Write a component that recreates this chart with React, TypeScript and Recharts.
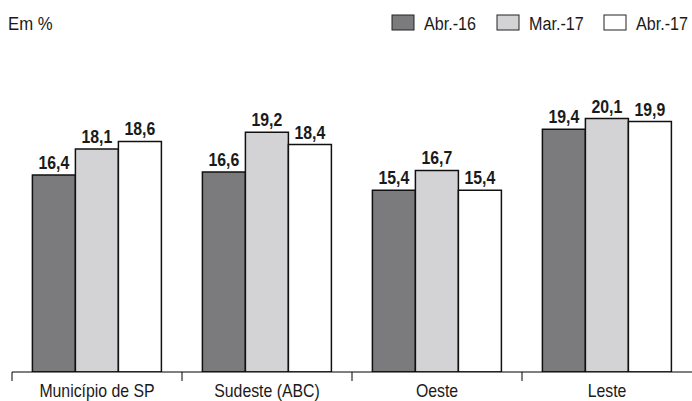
import React from "react"
import { BarChart, Bar, XAxis, YAxis, LabelList } from "recharts"

const categories = ["Município de SP", "Sudeste (ABC)", "Oeste", "Leste"]
const abr16 = [16.4, 16.6, 15.4, 19.4]
const mar17 = [18.1, 19.2, 16.7, 20.1]
const abr17 = [18.6, 18.4, 15.4, 19.9]

const series = [
  { key: "abr16", name: "Abr.-16", fill: "#7b7b7d" },
  { key: "mar17", name: "Mar.-17", fill: "#d3d3d5" },
  { key: "abr17", name: "Abr.-17", fill: "#ffffff" },
]

const data = categories.map((c, i) => ({
  regiao: c,
  abr16: abr16[i],
  mar17: mar17[i],
  abr17: abr17[i],
}))

const FONT = '"Liberation Sans", Arial, sans-serif'
const W = 692
const H = 401
const LEFT = 12
const band = (W - LEFT) / categories.length
const legendX = [392, 497, 604]

const fmt = (v: unknown) => String(v).replace(".", ",")

function NarrowText(props: any) {
  const { x, y, anchor = "start", size = 18, weight = 400, sx = 0.88, children } = props
  return (
    <text
      transform={`translate(${x},${y}) scale(${sx},1)`}
      textAnchor={anchor}
      fontSize={size}
      fontWeight={weight}
      fontFamily={FONT}
      fill="#1a1a1a"
    >
      {children}
    </text>
  )
}

function CatTick(props: any) {
  const { x, y, payload } = props
  return (
    <g>
      <line x1={x - band / 2} x2={x - band / 2} y1={y - 8} y2={y + 1} stroke="#000" strokeWidth={1} />
      <NarrowText x={x} y={y + 17} anchor="middle" size={18}>
        {payload.value}
      </NarrowText>
    </g>
  )
}

function BarValue(props: any) {
  const { x, y, width, value } = props
  return (
    <NarrowText x={x + width / 2} y={y - 6} anchor="middle" size={18} weight={700}>
      {fmt(value)}
    </NarrowText>
  )
}

export default function App() {
  return (
    <div style={{ position: "absolute", left: 0, top: 0, width: W, height: H, background: "#fff" }}>
      <svg width={W} height={50} style={{ position: "absolute", left: 0, top: 0 }}>
        <NarrowText x={8} y={30} size={19}>Em %</NarrowText>
        {series.map((s, i) => (
          <g key={s.key}>
            <rect x={legendX[i]} y={15} width={22} height={15} fill={s.fill} stroke="#222" strokeWidth={1} />
            <NarrowText x={legendX[i] + 32} y={30} size={19} sx={0.85}>{s.name}</NarrowText>
          </g>
        ))}
      </svg>
      <BarChart
        width={W}
        height={H}
        data={data}
        margin={{ top: 59, right: 0, bottom: 0, left: LEFT }}
        barGap={0}
        barCategoryGap="12%"
        style={{ position: "absolute", left: 0, top: 0 }}
      >
        <XAxis
          dataKey="regiao"
          height={29}
          axisLine={{ stroke: "#000", strokeWidth: 1 }}
          tickLine={false}
          tick={<CatTick />}
          interval={0}
        />
        <YAxis hide domain={[3.5, 24]} allowDataOverflow />
        {series.map((s) => (
          <Bar key={s.key} dataKey={s.key} fill={s.fill} stroke="#111" strokeWidth={1.5} isAnimationActive={false}>
            <LabelList dataKey={s.key} content={<BarValue />} />
          </Bar>
        ))}
      </BarChart>
    </div>
  )
}
